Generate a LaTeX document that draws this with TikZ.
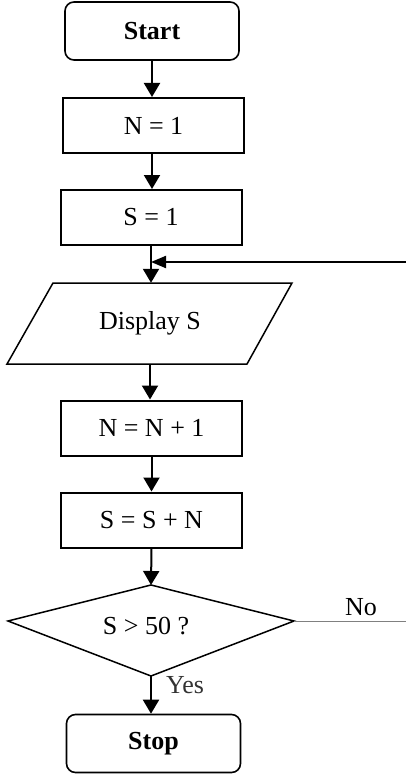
\documentclass[tikz,border=0pt]{standalone}
\usepackage{fontspec}
\setmainfont{Liberation Serif}
\usetikzlibrary{arrows.meta}
\begin{document}
\begin{tikzpicture}[x=1pt,y=-1pt,
  term/.style={draw, line width=1.6pt, rounded corners=9pt, minimum width=174pt, minimum height=58pt, inner sep=0pt, font=\fontsize{26}{30}\selectfont\bfseries},
  proc/.style={draw, line width=2pt, minimum width=181pt, minimum height=55pt, inner sep=0pt, font=\fontsize{26}{30}\selectfont},
  lbl/.style={inner sep=0pt, font=\fontsize{26}{30}\selectfont},
  flow/.style={line width=2pt, -{Triangle[width=16pt,length=14pt]}},
  back/.style={line width=2pt, -{Triangle[width=12pt,length=15pt]}},
  shapeline/.style={line width=1.5pt, line join=miter}
]
\useasboundingbox (0,0) rectangle (406,778);

\node[term] (start) at (152,31) {Start};
\node[proc] (n1) at (153.5,125.5) {N = 1};
\node[proc] (s1) at (151,217.5) {S = 1};

% Display S parallelogram
\draw[shapeline] (53,283) -- (292,283) -- (247,364) -- (7,364) -- cycle;
\node[lbl, minimum width=150pt, minimum height=81pt] (disp) at (150,323.5) {Display S};

\node[proc] (nn) at (151.5,428) {N = N + 1};
\node[proc] (ss) at (151.5,520) {S = S + N};

% decision diamond
\coordinate (dt) at (151,585);
\coordinate (dl) at (8,621);
\coordinate (dr) at (294,621);
\coordinate (db) at (151,676);
\draw[shapeline] (dt) -- (dr) -- (db) -- (dl) -- cycle;
\node[lbl] (cond) at (146,626) {S > 50 ?};

\node[term] (stop) at (153.5,743.5) {Stop};

\node[lbl] (no) at (361,607) {No};
\node[lbl, text=black!80] (yes) at (185,685) {Yes};

% connectors
\coordinate (ret) at (406,262);
\coordinate (noend) at (406,621);
\draw[flow] (start.south) -- (start.south |- n1.north);
\draw[flow] (n1.south -| start.south) -- (start.south |- s1.north);
\draw[flow] (s1.south) -- (s1.south |- disp.north);
\draw[back] (ret) -- (s1.south |- ret);
\draw[flow] (disp.south) -- (disp.south |- nn.north);
\draw[flow] (nn.south) -- (nn.south |- ss.north);
\draw[flow] (ss.south) -- (dt);
\draw[flow] (db) -- (db |- stop.north);
\draw[gray, line width=1pt] (dr) -- (noend);
\end{tikzpicture}
\end{document}
